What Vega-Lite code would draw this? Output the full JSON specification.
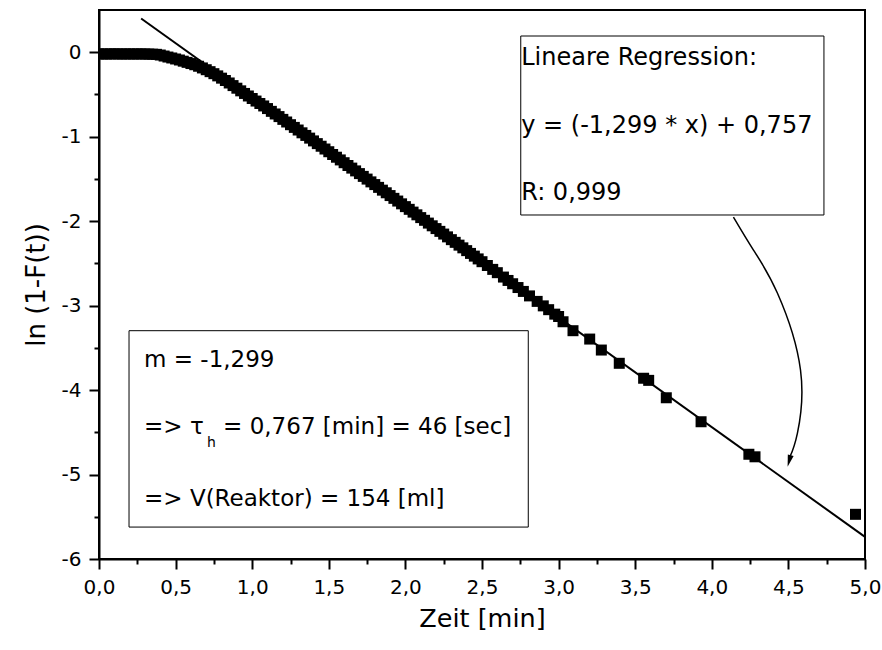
{
  "$schema": "https://vega.github.io/schema/vega-lite/v6.json",
  "width": 766,
  "height": 549,
  "autosize": {"type": "none"},
  "padding": {"left": 99, "top": 10, "right": 17, "bottom": 91},
  "background": "white",
  "config": {
    "view": {"stroke": "black", "strokeWidth": 2},
    "font": "DejaVu Sans"
  },
  "datasets": {
    "points": [
      {"x": 0.0, "y": -0.02}, {"x": 0.025, "y": -0.02}, {"x": 0.05, "y": -0.021}, {"x": 0.075, "y": -0.02},
      {"x": 0.1, "y": -0.019}, {"x": 0.125, "y": -0.02}, {"x": 0.15, "y": -0.021}, {"x": 0.175, "y": -0.02},
      {"x": 0.2, "y": -0.02}, {"x": 0.225, "y": -0.021}, {"x": 0.25, "y": -0.02}, {"x": 0.275, "y": -0.02},
      {"x": 0.3, "y": -0.021}, {"x": 0.325, "y": -0.022}, {"x": 0.35, "y": -0.023}, {"x": 0.375, "y": -0.025},
      {"x": 0.4, "y": -0.033}, {"x": 0.425, "y": -0.045}, {"x": 0.45, "y": -0.057}, {"x": 0.475, "y": -0.068},
      {"x": 0.5, "y": -0.08}, {"x": 0.525, "y": -0.092}, {"x": 0.55, "y": -0.106}, {"x": 0.575, "y": -0.12},
      {"x": 0.6, "y": -0.134}, {"x": 0.625, "y": -0.148}, {"x": 0.65, "y": -0.166}, {"x": 0.675, "y": -0.186},
      {"x": 0.7, "y": -0.207}, {"x": 0.725, "y": -0.23}, {"x": 0.75, "y": -0.254}, {"x": 0.775, "y": -0.28},
      {"x": 0.8, "y": -0.307}, {"x": 0.825, "y": -0.335}, {"x": 0.85, "y": -0.364}, {"x": 0.875, "y": -0.395},
      {"x": 0.9, "y": -0.426}, {"x": 0.925, "y": -0.457}, {"x": 0.95, "y": -0.488}, {"x": 0.975, "y": -0.518},
      {"x": 1.0, "y": -0.548}, {"x": 1.025, "y": -0.578}, {"x": 1.05, "y": -0.607}, {"x": 1.075, "y": -0.636},
      {"x": 1.1, "y": -0.667}, {"x": 1.125, "y": -0.7}, {"x": 1.15, "y": -0.731}, {"x": 1.175, "y": -0.762},
      {"x": 1.2, "y": -0.795}, {"x": 1.225, "y": -0.826}, {"x": 1.25, "y": -0.858}, {"x": 1.275, "y": -0.89},
      {"x": 1.3, "y": -0.921}, {"x": 1.325, "y": -0.954}, {"x": 1.35, "y": -0.985}, {"x": 1.375, "y": -1.017},
      {"x": 1.4, "y": -1.05}, {"x": 1.425, "y": -1.082}, {"x": 1.45, "y": -1.113}, {"x": 1.475, "y": -1.146},
      {"x": 1.5, "y": -1.178}, {"x": 1.525, "y": -1.211}, {"x": 1.55, "y": -1.243}, {"x": 1.575, "y": -1.275},
      {"x": 1.6, "y": -1.308}, {"x": 1.625, "y": -1.341}, {"x": 1.65, "y": -1.372}, {"x": 1.675, "y": -1.405},
      {"x": 1.7, "y": -1.437}, {"x": 1.725, "y": -1.47}, {"x": 1.75, "y": -1.502}, {"x": 1.775, "y": -1.535},
      {"x": 1.8, "y": -1.567}, {"x": 1.825, "y": -1.6}, {"x": 1.85, "y": -1.633}, {"x": 1.875, "y": -1.664},
      {"x": 1.9, "y": -1.697}, {"x": 1.925, "y": -1.73}, {"x": 1.95, "y": -1.762}, {"x": 1.975, "y": -1.795},
      {"x": 2.0, "y": -1.828}, {"x": 2.025, "y": -1.86}, {"x": 2.05, "y": -1.893}, {"x": 2.075, "y": -1.925},
      {"x": 2.1, "y": -1.958}, {"x": 2.125, "y": -1.99}, {"x": 2.15, "y": -2.023}, {"x": 2.175, "y": -2.055},
      {"x": 2.2, "y": -2.088}, {"x": 2.225, "y": -2.121}, {"x": 2.25, "y": -2.153}, {"x": 2.275, "y": -2.186},
      {"x": 2.3, "y": -2.219}, {"x": 2.325, "y": -2.251}, {"x": 2.35, "y": -2.284}, {"x": 2.375, "y": -2.316},
      {"x": 2.4, "y": -2.349}, {"x": 2.425, "y": -2.382}, {"x": 2.45, "y": -2.414}, {"x": 2.475, "y": -2.447},
      {"x": 2.5, "y": -2.48}, {"x": 2.535, "y": -2.525}, {"x": 2.57, "y": -2.571}, {"x": 2.6, "y": -2.61},
      {"x": 2.64, "y": -2.662}, {"x": 2.67, "y": -2.702}, {"x": 2.7, "y": -2.741}, {"x": 2.735, "y": -2.786},
      {"x": 2.77, "y": -2.832}, {"x": 2.81, "y": -2.885}, {"x": 2.86, "y": -2.95}, {"x": 2.9, "y": -3.003},
      {"x": 2.935, "y": -3.048}, {"x": 2.975, "y": -3.101},
      {"x": 3.0, "y": -3.129}, {"x": 3.029, "y": -3.191}, {"x": 3.094, "y": -3.297}, {"x": 3.203, "y": -3.396},
      {"x": 3.279, "y": -3.526}, {"x": 3.396, "y": -3.683}, {"x": 3.555, "y": -3.86}, {"x": 3.588, "y": -3.885},
      {"x": 3.703, "y": -4.091}, {"x": 3.93, "y": -4.375}, {"x": 4.242, "y": -4.76}, {"x": 4.282, "y": -4.79},
      {"x": 4.938, "y": -5.471}
    ],
    "fit": [{"x": 0.275, "y": 0.3998}, {"x": 5.0, "y": -5.738}],
    "boxes": [
      {"x": 2.753, "x2": 4.732, "y": 0.192, "y2": -1.927},
      {"x": 0.196, "x2": 2.802, "y": -3.297, "y2": -5.622}
    ],
    "labels1": [
      {"x": 2.756, "y": -0.152, "label": "Lineare Regression:"},
      {"x": 2.756, "y": -0.957, "label": "y = (-1,299 * x) + 0,757"},
      {"x": 2.756, "y": -1.75, "label": "R: 0,999"}
    ],
    "labels2": [
      {"x": 0.294, "y": -3.727, "label": "m = -1,299"},
      {"x": 0.294, "y": -4.52, "label": "=> τ"},
      {"x": 0.81, "y": -4.52, "label": "= 0,767 [min] = 46 [sec]"},
      {"x": 0.294, "y": -5.373, "label": "=> V(Reaktor) = 154 [ml]"}
    ],
    "sub": [{"x": 0.705, "y": -4.674, "label": "h"}],
    "arrow": [
      {"x": 4.141, "y": -1.951}, {"x": 4.272, "y": -2.342}, {"x": 4.428, "y": -2.851},
      {"x": 4.579, "y": -3.762}, {"x": 4.559, "y": -4.509}, {"x": 4.51, "y": -4.79}
    ],
    "head": [{"x": 4.505, "y": -4.84}]
  },
  "encoding": {
    "x": {
      "field": "x", "type": "quantitative",
      "scale": {"domain": [0, 5], "nice": false, "zero": false},
      "axis": {
        "values": [0, 0.25, 0.5, 0.75, 1, 1.25, 1.5, 1.75, 2, 2.25, 2.5, 2.75, 3, 3.25, 3.5, 3.75, 4, 4.25, 4.5, 4.75, 5],
        "labelExpr": "datum.value % 0.5 == 0 ? replace(format(datum.value, '.1f'), '.', ',') : ''",
        "tickSize": {"condition": {"test": "datum.value % 0.5 != 0", "value": 5}, "value": 10},
        "grid": false, "domainColor": "black", "domainWidth": 2, "tickColor": "black", "tickWidth": 2,
        "labelFont": "DejaVu Sans", "labelFontSize": 20, "labelColor": "black", "labelPadding": 8,
        "labelFlush": false, "labelOverlap": false,
        "title": "Zeit [min]", "titleFont": "DejaVu Sans", "titleFontSize": 25.5, "titleFontWeight": "normal",
        "titleColor": "black", "titlePadding": 9
      }
    },
    "y": {
      "field": "y", "type": "quantitative",
      "scale": {"domain": [-6, 0.5], "nice": false, "zero": false},
      "axis": {
        "values": [-6, -5.5, -5, -4.5, -4, -3.5, -3, -2.5, -2, -1.5, -1, -0.5, 0],
        "labelExpr": "datum.value % 1 == 0 ? '' + datum.value : ''",
        "tickSize": {"condition": {"test": "datum.value % 1 != 0", "value": 5}, "value": 10},
        "grid": false, "domainColor": "black", "domainWidth": 2, "tickColor": "black", "tickWidth": 2,
        "labelFont": "DejaVu Sans", "labelFontSize": 20, "labelColor": "black", "labelPadding": 8,
        "labelFlush": false, "labelOverlap": false,
        "title": "ln (1-F(t))", "titleFont": "DejaVu Sans", "titleFontSize": 26, "titleFontWeight": "normal",
        "titleColor": "black", "titlePadding": 12
      }
    }
  },
  "layer": [
    {
      "data": {"name": "boxes"},
      "mark": {"type": "rect", "fill": "white", "stroke": "black", "strokeWidth": 1},
      "encoding": {"x2": {"field": "x2"}, "y2": {"field": "y2"}}
    },
    {
      "data": {"name": "labels1"},
      "mark": {"type": "text", "align": "left", "baseline": "alphabetic", "font": "DejaVu Sans", "fontSize": 24, "fill": "black"},
      "encoding": {"text": {"field": "label"}}
    },
    {
      "data": {"name": "labels2"},
      "mark": {"type": "text", "align": "left", "baseline": "alphabetic", "font": "DejaVu Sans", "fontSize": 23, "fill": "black"},
      "encoding": {"text": {"field": "label"}}
    },
    {
      "data": {"name": "sub"},
      "mark": {"type": "text", "align": "left", "baseline": "alphabetic", "font": "DejaVu Sans", "fontSize": 14, "fill": "black"},
      "encoding": {"text": {"field": "label"}}
    },
    {
      "data": {"name": "points"},
      "mark": {"type": "point", "shape": "square", "filled": true, "color": "black", "size": 121, "opacity": 1, "clip": true}
    },
    {
      "data": {"name": "fit"},
      "mark": {"type": "line", "color": "black", "strokeWidth": 2},
      "encoding": {}
    },
    {
      "data": {"name": "arrow"},
      "mark": {"type": "line", "color": "black", "strokeWidth": 1.5, "interpolate": "natural"},
      "encoding": {"order": {"field": "y", "sort": "descending"}}
    },
    {
      "data": {"name": "head"},
      "mark": {"type": "point", "shape": "M -0.5 -1 L 0.5 -1 L 0 1 Z", "filled": true, "color": "black", "size": 144, "angle": 15, "opacity": 1}
    }
  ]
}
